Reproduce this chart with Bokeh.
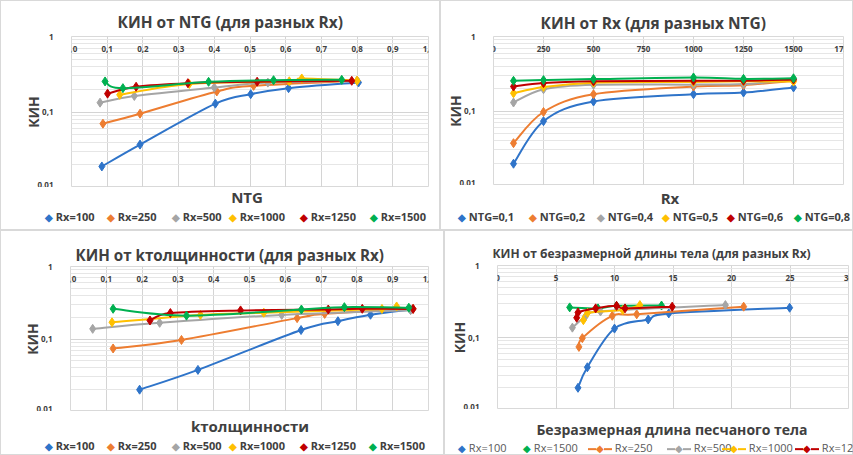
from bokeh.plotting import figure
from bokeh.models import (Range1d, FixedTicker, SingleIntervalTicker, CustomJSTickFormatter, Div)
from bokeh.layouts import column, row
from bokeh.embed import file_html
from bokeh.resources import INLINE
import numpy as np

FONT = "Open Sans"
TEXT = "#404040"
COLORS = ["#2F74C9", "#ED7D31", "#A5A5A5", "#FFC000", "#C00000", "#00B050"]

# --- КИН vs NTG, one series per Rx ---
rx_labels = ["Rx=100", "Rx=250", "Rx=500", "Rx=1000", "Rx=1250", "Rx=1500"]
ntg_x = [
    [0.085, 0.192, 0.403, 0.502, 0.608, 0.804],
    [0.088, 0.192, 0.407, 0.51, 0.80],
    [0.080, 0.176, 0.40, 0.55, 0.80],
    [0.135, 0.33, 0.61, 0.645, 0.80],
    [0.101, 0.181, 0.326, 0.52, 0.785],
    [0.094, 0.144, 0.384, 0.566, 0.757],
]
ntg_kin = [
    [0.019, 0.037, 0.129, 0.172, 0.207, 0.246],
    [0.070, 0.095, 0.187, 0.222, 0.259],
    [0.133, 0.163, 0.211, 0.245, 0.26],
    [0.169, 0.235, 0.255, 0.278, 0.26],
    [0.175, 0.216, 0.241, 0.252, 0.259],
    [0.254, 0.207, 0.251, 0.264, 0.267],
]

# --- КИН vs Rx, one series per NTG ---
ntg_labels = ["NTG=0,1", "NTG=0,2", "NTG=0,4", "NTG=0,5", "NTG=0,6", "NTG=0,8"]
rx_values = [100, 250, 500, 1000, 1250, 1500]
rx_kin = [
    [0.0196, 0.073, 0.134, 0.168, 0.177, 0.207],
    [0.037, 0.097, 0.168, 0.213, 0.222, 0.254],
    [0.130, 0.196, 0.225, 0.226, 0.23, 0.26],
    [0.173, 0.21, 0.24, 0.245, 0.25, 0.248],
    [0.213, 0.237, 0.25, 0.255, 0.255, 0.265],
    [0.254, 0.26, 0.268, 0.282, 0.27, 0.275],
]

# --- КИН vs thickness coefficient, one series per Rx ---
thick_x = [
    [0.193, 0.356, 0.644, 0.747, 0.838, 0.950],
    [0.119, 0.310, 0.633, 0.710, 0.957],
    [0.062, 0.249, 0.59, 0.95],
    [0.116, 0.363, 0.54, 0.87, 0.911],
    [0.222, 0.279, 0.475, 0.72, 0.815, 0.957],
    [0.119, 0.324, 0.645, 0.765, 0.945],
]
thick_kin = [
    [0.020, 0.0375, 0.133, 0.176, 0.216, 0.255],
    [0.074, 0.097, 0.194, 0.222, 0.261],
    [0.138, 0.167, 0.215, 0.25],
    [0.170, 0.215, 0.23, 0.26, 0.281],
    [0.180, 0.228, 0.248, 0.255, 0.261, 0.26],
    [0.261, 0.21, 0.255, 0.275, 0.27],
]

# --- КИН vs dimensionless sand-body length, one series per Rx ---
length_labels = ["Rx=100", "Rx=1500", "Rx=250", "Rx=500", "Rx=1000", "Rx=1250"]
length_colors = [COLORS[0], COLORS[5], COLORS[1], COLORS[2], COLORS[3], COLORS[4]]
length_x = [
    [6.88, 7.68, 10.0, 12.88, 14.64, 24.97],
    [6.17, 8.59, 10.17, 14.02],
    [6.96, 7.25, 9.81, 11.9, 21.04],
    [6.4, 7.5, 8.8, 19.48],
    [7.34, 7.7, 10.7, 12.17],
    [6.77, 6.88, 8.39, 10.18, 10.9, 14.93],
]
length_kin = [
    [0.020, 0.0386, 0.133, 0.178, 0.216, 0.259],
    [0.262, 0.254, 0.275, 0.278],
    [0.074, 0.098, 0.20, 0.21, 0.268],
    [0.137, 0.194, 0.23, 0.282],
    [0.174, 0.22, 0.24, 0.282],
    [0.188, 0.223, 0.254, 0.275, 0.254, 0.268],
]


def smooth_segments(xs, ys):
    """Cubic Bezier pieces of a Catmull-Rom curve, built in (x, log10 y)."""
    x = np.asarray(xs, float)
    ly = np.log10(np.asarray(ys, float))
    xp = np.concatenate([[x[0]], x, [x[-1]]])
    yp = np.concatenate([[ly[0]], ly, [ly[-1]]])
    out = {k: [] for k in ("x0", "y0", "x1", "y1", "cx0", "cy0", "cx1", "cy1")}
    for i in range(len(x) - 1):
        a, b = i + 1, i + 2
        out["x0"].append(float(xp[a])); out["y0"].append(float(10 ** yp[a]))
        out["x1"].append(float(xp[b])); out["y1"].append(float(10 ** yp[b]))
        out["cx0"].append(float(xp[a] + (xp[b] - xp[a - 1]) / 6))
        out["cy0"].append(float(10 ** (yp[a] + (yp[b] - yp[a - 1]) / 6)))
        out["cx1"].append(float(xp[b] - (xp[b + 1] - xp[a]) / 6))
        out["cy1"].append(float(10 ** (yp[b] - (yp[b + 1] - yp[a]) / 6)))
    return out


def make_panel(title, xmax, xstep, xfmt, width, left, right, top, frame_h,
               title_size, title_offset, title_standoff):
    p = figure(width=width, height=top + frame_h + 1, x_range=Range1d(0, xmax),
               y_range=Range1d(0.01, 1), y_axis_type="log", title=title,
               output_backend="svg", toolbar_location=None,
               min_border_left=left, min_border_right=right,
               min_border_top=top, min_border_bottom=0)
    p.border_fill_color = None
    p.background_fill_color = "white"
    p.outline_line_color = "#d9d9d9"

    p.title.align = "left"
    p.title.offset = title_offset
    p.title.standoff = title_standoff
    p.title.text_font = FONT
    p.title.text_font_size = title_size
    p.title.text_font_style = "bold"
    p.title.text_color = TEXT

    # horizontal axis crosses near КИН = 1; its labels hang just under the top line
    px_per_decade = frame_h / 2.0
    xa = p.xaxis[0]
    xa.fixed_location = 10 ** (-19.0 / px_per_decade)
    xa.ticker = SingleIntervalTicker(interval=xstep, num_minor_ticks=0)
    xa.formatter = CustomJSTickFormatter(code=xfmt)
    xa.axis_line_color = None
    xa.major_tick_line_color = None
    xa.minor_tick_line_color = None
    xa.major_tick_out = 0
    xa.major_label_standoff = -10
    xa.major_label_text_font = FONT
    xa.major_label_text_font_size = "8px"
    xa.major_label_text_font_style = "bold"
    xa.major_label_text_color = TEXT

    ya = p.yaxis[0]
    ya.ticker = FixedTicker(ticks=[0.01, 0.1, 1],
                            minor_ticks=[m * 10.0 ** e for e in (-2, -1) for m in range(2, 10)])
    ya.formatter = CustomJSTickFormatter(code="return tick >= 1 ? '1' : String(tick).replace('.', ',')")
    ya.axis_line_color = None
    ya.major_tick_line_color = None
    ya.minor_tick_line_color = None
    ya.major_label_standoff = 12
    ya.major_label_text_font = FONT
    ya.major_label_text_font_size = "8px"
    ya.major_label_text_font_style = "bold"
    ya.major_label_text_color = TEXT
    ya.axis_label = "КИН"
    ya.axis_label_standoff = -9
    ya.axis_label_text_font = FONT
    ya.axis_label_text_font_size = "14px"
    ya.axis_label_text_font_style = "bold"
    ya.axis_label_text_color = TEXT

    p.xgrid.grid_line_color = "#d4d4d4"
    p.ygrid.grid_line_color = "#d4d4d4"
    p.ygrid.minor_grid_line_color = "#e6e6e6"
    return p


def draw_series(p, xs, ys, color):
    seg = smooth_segments(xs, ys)
    p.bezier(line_color=color, line_width=2, **seg)
    p.scatter(list(xs), list(ys), marker="diamond", size=9, color=color)


def make_strip(width, height, xlabel, label_pos, label_size, labels, colors, lefts, legend_top,
               with_line=(), bold=True, legend_color=TEXT):
    """Band under a chart: horizontal axis title and a one-line legend."""
    weight = "bold" if bold else "normal"
    parts = [
        f'<div style="position:absolute;left:{label_pos[0]}px;top:{label_pos[1]}px;'
        f'transform:translate(-50%,-50%);white-space:nowrap;font-weight:bold;'
        f'font-size:{label_size};color:{TEXT}">{xlabel}</div>'
    ]
    for k, (lab, c, x) in enumerate(zip(labels, colors, lefts)):
        mark = f'<span style="color:{c};font-size:10px">&#9670;</span>'
        if k in with_line:
            seg = (f'<span style="display:inline-block;width:8px;border-top:2px solid {c};'
                   f'vertical-align:middle"></span>')
            mark = seg + mark + seg
        parts.append(
            f'<span style="position:absolute;left:{x}px;top:{legend_top}px;transform:translateY(-50%);'
            f'white-space:nowrap;font-size:11px;font-weight:{weight};color:{legend_color}">'
            f'{mark}&nbsp;{lab}</span>')
    html = (f'<div style="position:relative;width:{width}px;height:{height}px;overflow:hidden;'
            f'font-family:\'{FONT}\'">' + "".join(parts) + "</div>")
    return Div(text=html, width=width, height=height, margin=(0, 0, 0, 0))


def panel_box(main, strip):
    return column(main, strip, styles={"box-shadow": "inset 0 0 0 1px #d9d9d9"})


dec1 = "return tick.toFixed(1).replace('.', ',')"
dec0 = "return tick.toFixed(0)"

# КИН от NTG
p1 = make_panel("КИН от NTG (для разных Rx)", 1.0, 0.1, dec1, 440, 71, 12, 36, 150, "15.5px", 46, 7)
for xs, ys, c in zip(ntg_x, ntg_kin, COLORS):
    draw_series(p1, xs, ys, c)
s1 = make_strip(440, 230 - p1.height, "NTG", (247, 11), "15px", rx_labels, COLORS,
                [45, 107, 172, 229, 300, 370], 30)

# КИН от Rx
p2 = make_panel("КИН от Rx (для разных NTG)", 1750, 250, dec0, 413, 53, 10, 36, 148, "15.5px", 47, 5)
for ys, c in zip(rx_kin, COLORS):
    draw_series(p2, rx_values, ys, c)
s2 = make_strip(413, 230 - p2.height, "Rx", (230, 14), "15px", ntg_labels, COLORS,
                [18, 89, 157, 222, 287, 354], 32)

# КИН от kтолщинности
p3 = make_panel("КИН от kтолщинности (для разных Rx)", 1.0, 0.1, dec1, 444, 70, 16, 36, 144,
                "15.2px", 5, 4)
for xs, ys, c in zip(thick_x, thick_kin, COLORS):
    draw_series(p3, xs, ys, c)
s3 = make_strip(444, 225 - p3.height, "kтолщинности", (250, 16), "15px", rx_labels, COLORS,
                [45, 107, 172, 229, 300, 369], 35)

# КИН от безразмерной длины тела
p4 = make_panel("КИН от безразмерной длины тела (для разных Rx)", 30, 5, dec0, 409, 53, 5, 35, 143,
                "12px", -5, 8)
for xs, ys, c in zip(length_x, length_kin, length_colors):
    draw_series(p4, xs, ys, c)
s4 = make_strip(409, 225 - p4.height, "Безразмерная длина песчаного тела", (228, 21), "14px",
                length_labels, length_colors, [14, 79, 144, 223, 278, 351], 39,
                with_line=(2, 3, 4, 5), bold=False, legend_color="#595959")

layout = column(row(panel_box(p1, s1), panel_box(p2, s2)),
                row(panel_box(p3, s3), panel_box(p4, s4)))
open("out.html", "w").write(file_html(layout, INLINE))
